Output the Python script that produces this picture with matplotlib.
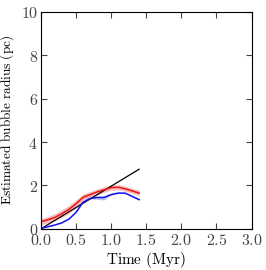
import matplotlib
matplotlib.use("Agg")
import matplotlib.pyplot as plt
import numpy as np

plt.rcParams['mathtext.fontset'] = 'cm'
plt.rcParams['font.family'] = 'serif'

# time grid (Myr)
time = [0.0, 0.1, 0.2, 0.3, 0.4, 0.5, 0.6, 0.7, 0.8, 0.9, 1.0, 1.1, 1.2, 1.3, 1.4]
# estimated radius, red series (pc) and its spread
red_r = [0.33, 0.42, 0.53, 0.70, 0.90, 1.15, 1.45, 1.58, 1.70, 1.80, 1.90, 1.92, 1.85, 1.75, 1.65]
red_lo = [0.20, 0.28, 0.38, 0.53, 0.72, 0.98, 1.30, 1.45, 1.57, 1.68, 1.78, 1.80, 1.74, 1.64, 1.53]
red_hi = [0.47, 0.57, 0.70, 0.88, 1.08, 1.33, 1.60, 1.72, 1.84, 1.94, 2.02, 2.04, 1.97, 1.87, 1.78]
# blue series and spread
blue_r = [0.02, 0.10, 0.18, 0.28, 0.45, 0.75, 1.22, 1.40, 1.45, 1.45, 1.58, 1.65, 1.65, 1.50, 1.35]
blue_lo = [0.02, 0.10, 0.18, 0.28, 0.45, 0.75, 1.22, 1.38, 1.37, 1.33, 1.55, 1.63, 1.63, 1.48, 1.33]
blue_hi = [0.02, 0.10, 0.18, 0.28, 0.45, 0.75, 1.22, 1.42, 1.47, 1.47, 1.60, 1.67, 1.67, 1.52, 1.37]
# analytic reference line
line_t = [0.0, 1.4]
line_r = [0.0, 2.75]

fig = plt.figure(figsize=(2.66, 2.70), dpi=100)
ax = fig.add_axes([0.153, 0.152, 0.793, 0.805])

ax.fill_between(time, red_lo, red_hi, color='#f4a0a0', alpha=0.7, lw=0)
ax.fill_between(time, blue_lo, blue_hi, color='#9aa8f0', alpha=0.7, lw=0)
ax.plot(line_t, line_r, color='k', lw=0.9)
ax.plot(time, blue_r, color='#1010ee', lw=1.1)
ax.plot(time, red_r, color='#ee1111', lw=1.1)

ax.set_xlim(0, 3)
ax.set_ylim(0, 10)
ax.set_xticks(np.arange(0, 3.01, 0.5))
ax.set_yticks(np.arange(0, 10.01, 2))
ax.set_xticklabels([r'$%.1f$' % v for v in np.arange(0, 3.01, 0.5)])
ax.set_yticklabels([r'$%d$' % v for v in np.arange(0, 10.01, 2)])
ax.tick_params(direction='in', top=True, right=True, labelsize=11.5, length=4,
               colors='#444444', pad=2)
ax.set_xlabel(r'$\mathrm{Time\ (Myr)}$', fontsize=11, labelpad=1)
ax.set_ylabel(r'$\mathrm{Estimated\ bubble\ radius\ (pc)}$', fontsize=9.6, labelpad=3)

fig.savefig("out.png", dpi=100)
